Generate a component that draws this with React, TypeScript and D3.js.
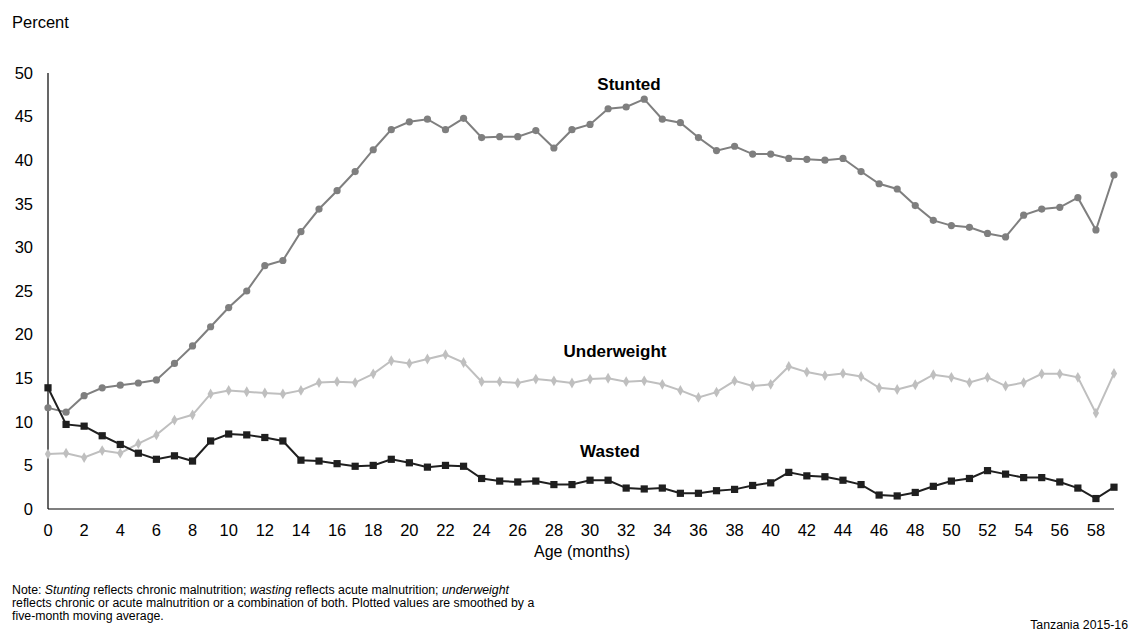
import * as d3 from "d3";
import React from "react";

const months = d3.range(0, 60);

const stunted = [
  11.6, 11.1, 13.0, 13.9, 14.2, 14.45, 14.8, 16.7, 18.7, 20.9,
  23.1, 25.0, 27.9, 28.5, 31.8, 34.4, 36.5, 38.7, 41.2, 43.5,
  44.4, 44.7, 43.5, 44.8, 42.6, 42.7, 42.7, 43.4, 41.4, 43.5,
  44.1, 45.9, 46.1, 47.0, 44.7, 44.3, 42.6, 41.1, 41.6, 40.7,
  40.7, 40.2, 40.1, 40.0, 40.2, 38.7, 37.3, 36.7, 34.8, 33.1,
  32.5, 32.3, 31.6, 31.2, 33.7, 34.4, 34.6, 35.7, 32.0, 38.3,
];

const underweight = [
  6.3, 6.4, 5.9, 6.7, 6.4, 7.5, 8.5, 10.2, 10.8, 13.2,
  13.6, 13.45, 13.3, 13.2, 13.6, 14.5, 14.6, 14.5, 15.5, 17.0,
  16.7, 17.2, 17.7, 16.8, 14.6, 14.6, 14.45, 14.9, 14.7, 14.45,
  14.9, 15.0, 14.6, 14.7, 14.3, 13.6, 12.8, 13.4, 14.7, 14.1,
  14.3, 16.35, 15.7, 15.3, 15.55, 15.2, 13.9, 13.7, 14.25, 15.4,
  15.1, 14.5, 15.1, 14.1, 14.5, 15.5, 15.5, 15.1, 11.0, 15.55,
];

const wasted = [
  13.9, 9.7, 9.5, 8.4, 7.4, 6.4, 5.7, 6.1, 5.5, 7.8,
  8.6, 8.5, 8.2, 7.8, 5.6, 5.5, 5.2, 4.9, 5.0, 5.7,
  5.3, 4.8, 5.0, 4.9, 3.5, 3.2, 3.1, 3.2, 2.8, 2.8,
  3.3, 3.3, 2.4, 2.3, 2.4, 1.8, 1.8, 2.1, 2.25, 2.7,
  3.0, 4.2, 3.8, 3.7, 3.3, 2.8, 1.6, 1.5, 1.9, 2.6,
  3.2, 3.5, 4.4, 4.0, 3.6, 3.6, 3.1, 2.4, 1.2, 2.5,
];

const yTicks = [0, 5, 10, 15, 20, 25, 30, 35, 40, 45, 50];
const xTicks = d3.range(0, 59, 2);

const W = 1137;
const H = 632;
const font = "Liberation Sans, Arial, sans-serif";

const x = d3.scaleLinear().domain([0, 59]).range([48, 1114]);
const y = d3.scaleLinear().domain([0, 50]).range([509, 73]);

const line = d3
  .line<number>()
  .x((_, i) => x(months[i]))
  .y((d) => y(d));

const diamond = d3.symbol().type(d3.symbolDiamond).size(34)();

export default function App() {
  return (
    <svg
      width={W}
      height={H}
      style={{ position: "absolute", left: 0, top: 0, background: "#fff" }}
      fontFamily={font}
    >
      <text x={12} y={28} fontSize={16.5} fill="#000">Percent</text>

      {/* y ticks */}
      {yTicks.map((t) => (
        <text key={t} x={33} y={y(t)} dy="0.35em" fontSize={16.5} textAnchor="end" fill="#000">
          {t}
        </text>
      ))}
      {/* x ticks */}
      {xTicks.map((t) => (
        <text key={t} x={x(t)} y={536} fontSize={16.5} textAnchor="middle" fill="#000">
          {t}
        </text>
      ))}
      <text x={582} y={557} fontSize={16} textAnchor="middle" fill="#000">Age (months)</text>

      <line x1={x(0)} x2={x(0)} y1={y(50)} y2={y(0)} stroke="#000" strokeWidth={1.2} />
      <line x1={x(0)} x2={x(59)} y1={y(0)} y2={y(0)} stroke="#000" strokeWidth={1.2} />

      {/* underweight */}
      <path d={line(underweight) || ""} fill="none" stroke="#bfbfbf" strokeWidth={2} />
      {underweight.map((v, i) => (
        <path key={i} d={diamond} transform={`translate(${x(months[i])},${y(v)})`} fill="#bfbfbf" />
      ))}

      {/* stunted */}
      <path d={line(stunted) || ""} fill="none" stroke="#7f7f7f" strokeWidth={2} />
      {stunted.map((v, i) => (
        <circle key={i} cx={x(months[i])} cy={y(v)} r={3.6} fill="#7f7f7f" />
      ))}

      {/* wasted */}
      <path d={line(wasted) || ""} fill="none" stroke="#1f1f1f" strokeWidth={2} />
      {wasted.map((v, i) => (
        <rect key={i} x={x(months[i]) - 3.6} y={y(v) - 3.6} width={7.2} height={7.2} fill="#1f1f1f" />
      ))}

      <text x={629} y={90} fontSize={17} fontWeight="bold" textAnchor="middle" fill="#000">Stunted</text>
      <text x={615} y={357} fontSize={17} fontWeight="bold" textAnchor="middle" fill="#000">Underweight</text>
      <text x={610} y={457} fontSize={17} fontWeight="bold" textAnchor="middle" fill="#000">Wasted</text>

      <text x={12} y={594} fontSize={12.3} fill="#000">
        Note: <tspan fontStyle="italic">Stunting</tspan> reflects chronic malnutrition;{" "}
        <tspan fontStyle="italic">wasting</tspan> reflects acute malnutrition;{" "}
        <tspan fontStyle="italic">underweight</tspan>
      </text>
      <text x={12} y={607} fontSize={12.3} fill="#000">
        reflects chronic or acute malnutrition or a combination of both. Plotted values are smoothed by a
      </text>
      <text x={12} y={620} fontSize={12.3} fill="#000">five-month moving average.</text>
      <text x={1128} y={629} fontSize={12.3} textAnchor="end" fill="#000">Tanzania 2015-16</text>
    </svg>
  );
}
